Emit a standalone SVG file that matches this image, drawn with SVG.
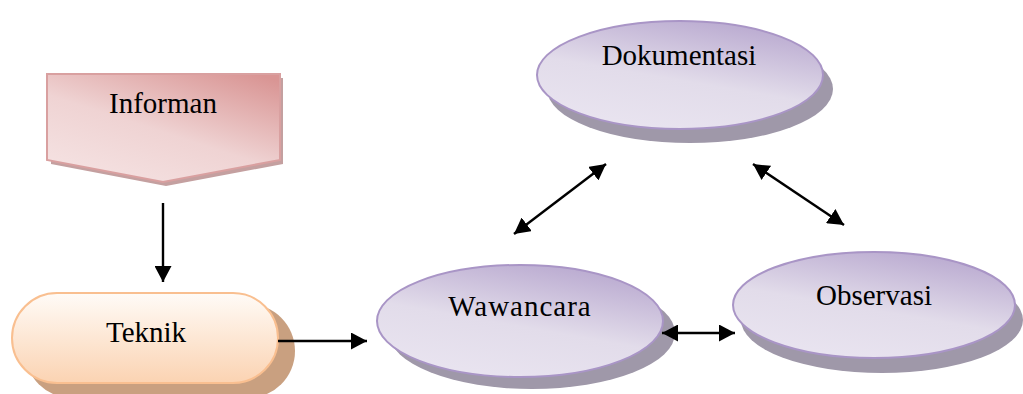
<svg xmlns="http://www.w3.org/2000/svg" width="1023" height="394" viewBox="0 0 1023 394">
  <defs>
    <linearGradient id="gPink" x1="0.9" y1="0" x2="0.2" y2="1">
      <stop offset="0" stop-color="#d99594"/>
      <stop offset="0.55" stop-color="#efd3d3"/>
      <stop offset="1" stop-color="#f5e2e2"/>
    </linearGradient>
    <linearGradient id="gPeach" x1="0" y1="0" x2="0" y2="1">
      <stop offset="0" stop-color="#fffbf7"/>
      <stop offset="1" stop-color="#fbd3b2"/>
    </linearGradient>
    <linearGradient id="gLilac" x1="0.75" y1="0" x2="0.3" y2="1">
      <stop offset="0" stop-color="#b8a8cf"/>
      <stop offset="0.55" stop-color="#e2dcea"/>
      <stop offset="1" stop-color="#e9e4f0"/>
    </linearGradient>
    <!-- solid triangular head, 16 long x 17 wide -->
    <marker id="ahBig" viewBox="0 0 10 10" refX="10" refY="5" markerWidth="16" markerHeight="17" markerUnits="userSpaceOnUse" preserveAspectRatio="none" orient="auto-start-reverse">
      <path d="M0,0 L10,5 L0,10 z" fill="#000"/>
    </marker>
  </defs>
  <style>
    .lbl { font-family: "Liberation Serif", "Times New Roman", serif; font-size: 29px; fill: #000; text-anchor: middle; }
    .oval { fill: url(#gLilac); stroke: #a995c6; stroke-width: 2; }
    .ovalShadow { fill: #9f98a9; }
    .conn { stroke: #000; stroke-width: 2.4; fill: none; marker-end: url(#ahBig); }
    .conn2 { marker-start: url(#ahBig); }
  </style>

  <rect width="1023" height="394" fill="#fff"/>

  <g id="informan">
    <path d="M51,78 L283,78 L283,164 L166,186 L51,164 Z" fill="#c4a0a0"/>
    <path d="M47,74 L280,74 L280,160 L163,182 L47,160 Z" fill="url(#gPink)" stroke="#d9a0a0" stroke-width="2"/>
    <text class="lbl" x="163" y="113">Informan</text>
  </g>

  <g id="teknik">
    <rect x="25" y="304" width="270" height="94" rx="47" fill="#c9a080"/>
    <rect x="12" y="293" width="266" height="90" rx="45" fill="url(#gPeach)" stroke="#f9bf90" stroke-width="2"/>
    <text class="lbl" x="146" y="342">Teknik</text>
  </g>

  <g id="dokumentasi">
    <ellipse class="ovalShadow" cx="690" cy="89" rx="143" ry="54"/>
    <ellipse class="oval" cx="680" cy="75" rx="143" ry="54"/>
    <text class="lbl" x="679" y="65">Dokumentasi</text>
  </g>

  <g id="wawancara">
    <ellipse class="ovalShadow" cx="532" cy="333" rx="143" ry="56"/>
    <ellipse class="oval" cx="520" cy="321" rx="143" ry="56"/>
    <text class="lbl" x="520" y="316" letter-spacing="1">Wawancara</text>
  </g>

  <g id="observasi">
    <ellipse class="ovalShadow" cx="882" cy="320" rx="141" ry="53"/>
    <ellipse class="oval" cx="874" cy="305" rx="141" ry="53"/>
    <text class="lbl" x="874" y="305">Observasi</text>
  </g>

  <g id="connectors">
    <line class="conn" x1="163" y1="203" x2="163" y2="282"/>
    <line class="conn" x1="278" y1="341" x2="367" y2="341"/>
    <line class="conn conn2" x1="662" y1="333" x2="735" y2="333"/>
    <line class="conn conn2" x1="514" y1="234" x2="606" y2="164"/>
    <line class="conn conn2" x1="753" y1="164" x2="844" y2="225"/>
  </g>
</svg>
